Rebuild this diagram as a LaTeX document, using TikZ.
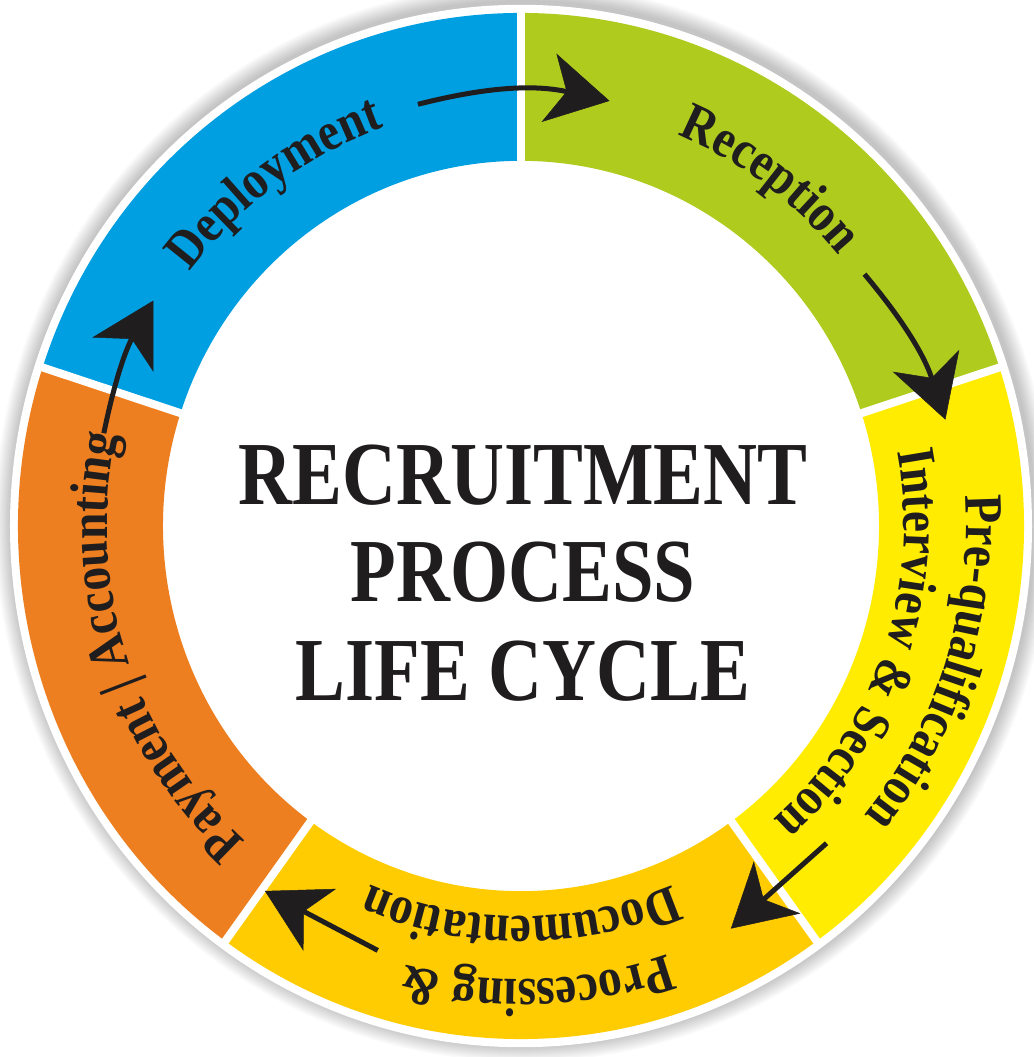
\documentclass[tikz,border=0pt]{standalone}
\usepackage{fontspec}
\setmainfont{Liberation Serif}
\newfontfamily\titlefnt[FakeStretch=0.83]{Liberation Serif}
\newfontfamily\lblface[FakeStretch=0.88]{Liberation Serif}
\newcommand\lblfnt{\lblface\bfseries\fontsize{54}{60}\selectfont}
\usetikzlibrary{decorations.text, arrows.meta}
\definecolor{cBlue}{RGB}{0,159,226}
\definecolor{cGreen}{RGB}{175,203,30}
\definecolor{cYellow}{RGB}{255,236,0}
\definecolor{cGold}{RGB}{254,204,0}
\definecolor{cOrange}{RGB}{237,127,32}
\definecolor{ink}{RGB}{32,29,30}
\tikzset{
  arr/.style={draw=ink, line width=5pt, -{Stealth[length=62pt, width=70pt, inset=18pt, fill=ink, line width=0.5pt]}},
  titletext/.style={font=\titlefnt\bfseries\fontsize{90}{96}\selectfont, text=ink, anchor=base, inner sep=0pt},
  lbl/.style={decorate, decoration={text along path, text align=center, text color=ink}}
}
\begin{document}
\begin{tikzpicture}[x=1pt,y=1pt]
\fill[white] (-521,-531) rectangle (512,526);
\useasboundingbox (-521,-531) rectangle (512,526);
\begin{scope}[yscale=1.02]
  % soft shadow
  \foreach \i in {1,...,10} {
    \fill[black, opacity=0.022] (2,3) circle[radius={511pt+1.7pt*\i}];
  }
  \fill[white] (0,0) circle[radius=511pt];
  % segments
  \fill[cGreen]  (18:358pt)  arc[start angle=18,  end angle=90,  radius=358pt] -- (90:503pt)  arc[start angle=90,  end angle=18,  radius=503pt] -- cycle;
  \fill[cBlue]   (90:358pt)  arc[start angle=90,  end angle=162, radius=358pt] -- (162:503pt) arc[start angle=162, end angle=90,  radius=503pt] -- cycle;
  \fill[cOrange] (162:358pt) arc[start angle=162, end angle=234, radius=358pt] -- (234:503pt) arc[start angle=234, end angle=162, radius=503pt] -- cycle;
  \fill[cGold]   (234:358pt) arc[start angle=234, end angle=306, radius=358pt] -- (306:503pt) arc[start angle=306, end angle=234, radius=503pt] -- cycle;
  \fill[cYellow] (-54:358pt) arc[start angle=-54, end angle=18,  radius=358pt] -- (18:503pt)  arc[start angle=18,  end angle=-54, radius=503pt] -- cycle;
  \foreach \a in {18,90,162,234,306} {
    \draw[white, line width=8pt] (\a:350pt) -- (\a:506pt);
  }
  % labels
  \path[lbl, decoration={text={|\lblfnt|Deployment}}] (165:414pt) arc[start angle=165, end angle=87, radius=414pt];
  \path[lbl, decoration={text={|\lblfnt|Reception}}] (93:414pt) arc[start angle=93, end angle=15, radius=414pt];
  \path[lbl, decoration={text={|\lblfnt|Payment {\textbar} Accounting}}] (245:414pt) arc[start angle=245, end angle=151, radius=414pt];
  \path[lbl, decoration={text={|\lblfnt|Pre-qualification}}] (30:445pt) arc[start angle=30, end angle=-66, radius=445pt];
  \path[lbl, decoration={text={|\lblfnt|Interview {\&} Section}}] (30:383pt) arc[start angle=30, end angle=-68, radius=383pt];
  \path[lbl, decoration={text={|\lblfnt|Processing {\&}}}] (-38:445pt) arc[start angle=-38, end angle=-138, radius=445pt];
  \path[lbl, decoration={text={|\lblfnt|Documentation}}] (-40:383pt) arc[start angle=-40, end angle=-140, radius=383pt];
  % arrows
  \coordinate (a1s) at (104:426pt);   \coordinate (a1e) at (78:426pt);
  \coordinate (a2s) at (35.7:423pt);  \coordinate (a2e) at (13.8:437pt);
  \coordinate (a3s) at (-45.5:436pt); \coordinate (a3e) at (-62:447pt);
  \coordinate (a4s) at (-109:440pt);  \coordinate (a4e) at (-125.6:440pt);
  \coordinate (a5s) at (167.7:427pt); \coordinate (a5e) at (149:429pt);
  \draw[arr] (a1s) to[bend left=13] (a1e);
  \draw[arr] (a2s) to[bend left=11] (a2e);
  \draw[arr] (a3s) -- (a3e);
  \draw[arr] (a4s) -- (a4e);
  \draw[arr] (a5s) to[bend left=9] (a5e);
\end{scope}
\node[titletext] (t1) at (2,21) {RECRUITMENT};
\node[titletext] (t2) at (2,-75) {PROCESS};
\node[titletext] (t3) at (2,-174) {LIFE CYCLE};
\end{tikzpicture}
\end{document}
